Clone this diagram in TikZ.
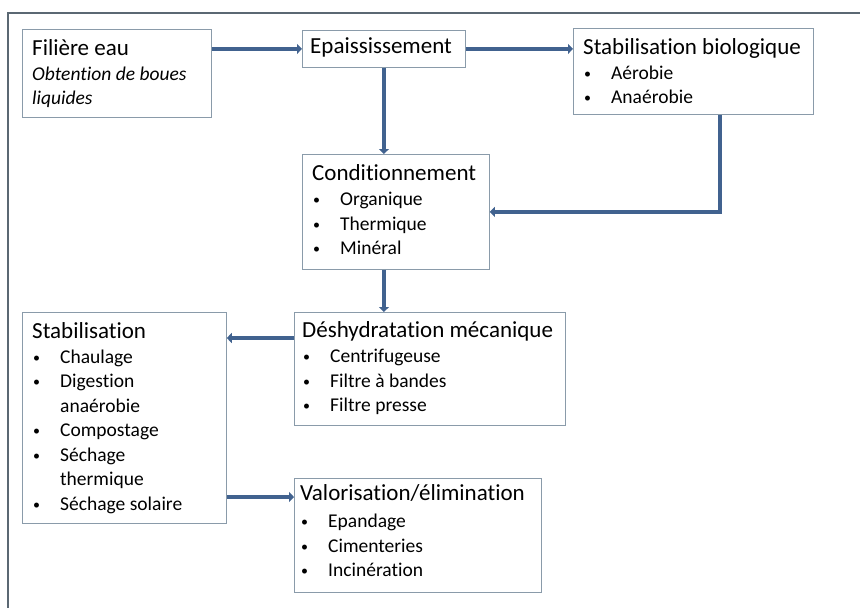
\documentclass[tikz,border=0pt]{standalone}
\usepackage{fontspec}
\setmainfont{Carlito}[Ligatures=NoCommon]
\usetikzlibrary{arrows.meta,calc}
\definecolor{flowblue}{HTML}{41628F}
\definecolor{boxgray}{HTML}{8A9BAA}
\definecolor{framegray}{HTML}{5B6873}
\tikzstyle{stepbox}=[draw=boxgray, line width=0.8pt, anchor=north west, inner sep=0pt]
\tikzstyle{boxtext}=[anchor=north west, inner sep=0pt, align=left, font=\fontsize{19.5}{24.5}\selectfont]
\tikzstyle{flow}=[flowblue, line width=4pt, -{Triangle[length=5pt,width=10pt]}]
\newcommand{\boxtitle}[1]{\rule{0pt}{20pt}{\fontsize{23}{24.5}\selectfont #1}}
\newcommand{\bitem}[1]{\makebox[28pt][l]{\hspace*{1pt}\raisebox{1pt}{\fontsize{14}{14}\selectfont •}}#1}

\begin{document}
\begin{tikzpicture}[x=1pt, y=-1pt]
\useasboundingbox (0,0) rectangle (860,608);
% Frame
    \draw[framegray, line width=1.3pt] (8,612) -- (8,13) -- (864,13);
% Boxes
    \node[stepbox, minimum width=189pt, minimum height=88pt] (filiere) at (22,29) {};
    \node[stepbox, minimum width=163pt, minimum height=37pt] (epaiss) at (302,30) {};
    \node[stepbox, minimum width=240pt, minimum height=86pt] (stabbio) at (573,28) {};
    \node[stepbox, minimum width=187pt, minimum height=115pt] (cond) at (302,154) {};
    \node[stepbox, minimum width=271pt, minimum height=113pt] (desh) at (294,312) {};
    \node[stepbox, minimum width=204pt, minimum height=211pt] (stab) at (22,312) {};
    \node[stepbox, minimum width=247pt, minimum height=114pt] (valo) at (294,478) {};
% Texts
    \node[boxtext] (filieretxt) at ($(filiere.north west)+(10,6)$)
        {\boxtitle{Filière eau}\\[0.5pt]\textit{Obtention de boues}\\\textit{liquides}};
    \node[boxtext] (epaisstxt) at ($(epaiss.north west)+(8,3)$)
        {\boxtitle{Epaississement}};
    \node[boxtext] (stabbiotxt) at ($(stabbio.north west)+(10,6)$)
        {\boxtitle{Stabilisation biologique}\\[0.5pt]\bitem{Aérobie}\\\bitem{Anaérobie}};
    \node[boxtext] (condtxt) at ($(cond.north west)+(10,6)$)
        {\boxtitle{Conditionnement}\\[1pt]\bitem{Organique}\\\bitem{Thermique}\\\bitem{Minéral}};
    \node[boxtext] (deshtxt) at ($(desh.north west)+(8,5)$)
        {\boxtitle{Déshydratation mécanique}\\[1pt]\bitem{Centrifugeuse}\\\bitem{Filtre à bandes}\\\bitem{Filtre presse}};
    \node[boxtext] (stabtxt) at ($(stab.north west)+(10,6)$)
        {\boxtitle{Stabilisation}\\[0.5pt]\bitem{Chaulage}\\\bitem{Digestion}\\\hspace*{28pt}anaérobie\\
         \bitem{Compostage}\\\bitem{Séchage}\\\hspace*{28pt}thermique\\\bitem{Séchage solaire}};
    \node[boxtext] (valotxt) at ($(valo.north west)+(6,2)$)
        {\boxtitle{Valorisation/élimination}\\[3pt]\bitem{Epandage}\\\bitem{Cimenteries}\\\bitem{Incinération}};
% Arrows
    \draw[flow] (filiere.east |- epaiss.west) -- (epaiss.west);
    \draw[flow] (epaiss.east) -- (stabbio.west |- epaiss.east);
    \draw[flow] (epaiss.south) -- (epaiss.south |- cond.north);
    \draw[flow] ($(stabbio.south)+(27,0)$) |- (cond.east);
    \draw[flow] (epaiss.south |- cond.south) -- (epaiss.south |- desh.north);
    \coordinate (dout) at ($(desh.north west)+(0,26)$);
    \draw[flow] (dout) -- (stab.east |- dout);
    \coordinate (vin) at ($(valo.north west)+(0,19)$);
    \draw[flow] (stab.east |- vin) -- (vin);
\end{tikzpicture}
\end{document}
